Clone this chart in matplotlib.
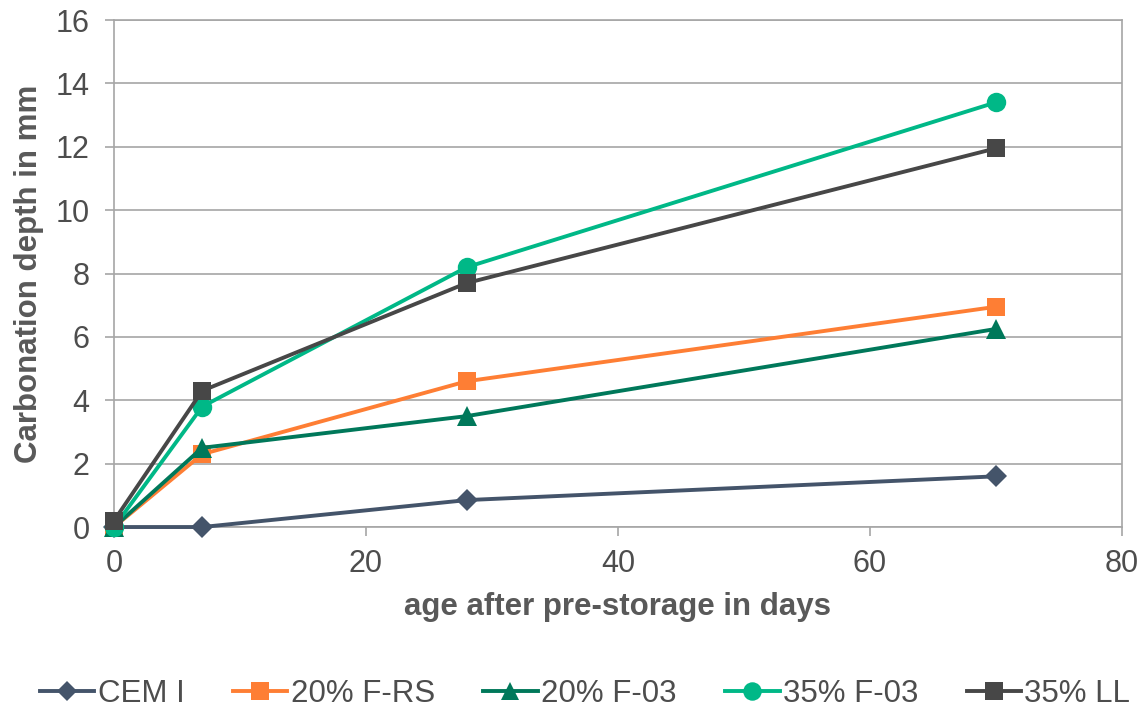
import matplotlib
matplotlib.use("Agg")
import matplotlib.pyplot as plt

plt.rcParams['font.family'] = ['Liberation Sans', 'DejaVu Sans']

days = [0, 7, 28, 70]
cem_i = [0.0, 0.0, 0.85, 1.6]
f_rs_20 = [0.0, 2.3, 4.6, 6.95]
f_03_20 = [0.0, 2.5, 3.5, 6.25]
f_03_35 = [0.0, 3.8, 8.2, 13.4]
ll_35 = [0.2, 4.3, 7.7, 11.95]

labels = ["CEM I", "20% F-RS", "20% F-03", "35% F-03", "35% LL"]
series = [cem_i, f_rs_20, f_03_20, f_03_35, ll_35]
colors = ["#44546A", "#FE7E34", "#00785A", "#00B887", "#474747"]
markers = ["D", "s", "^", "o", "s"]
msizes = [11, 13, 14, 14, 13]

fig = plt.figure(figsize=(11.47, 7.10), dpi=100)
ax = fig.add_axes([0.0994, 0.2577, 0.8786, 0.7141])

for y, lab, c, m, ms in zip(series, labels, colors, markers, msizes):
    ax.plot(days, y, color=c, lw=2.8, marker=m, markersize=ms,
            markeredgewidth=0, label=lab, clip_on=False, zorder=3)

ax.set_xlim(0, 80)
ax.set_ylim(0, 16)
ax.set_xticks([0, 20, 40, 60, 80])
ax.set_yticks(range(0, 17, 2))
ax.grid(axis='y', color='#A6A6A6', lw=1.2)
ax.set_axisbelow(True)
for s in ax.spines.values():
    s.set_color('#A6A6A6')
    s.set_linewidth(1.2)
ax.tick_params(axis='both', colors='#A6A6A6', labelcolor='#4D4D4D',
               labelsize=22, length=6.5, width=1.2)
ax.tick_params(axis='y', pad=11)
ax.tick_params(axis='x', pad=9)
ax.set_xlabel("age after pre-storage in days", fontsize=22.5, fontweight='bold',
              color='#595959', labelpad=10)
ax.set_ylabel("Carbonation depth in mm", fontsize=22.5, fontweight='bold',
              color='#595959', labelpad=8)

leg = fig.legend(loc='center', ncol=5, frameon=False, fontsize=22.5,
                 bbox_to_anchor=(0.51, 0.022), handlelength=1.75,
                 handletextpad=0.1, columnspacing=1.55, labelcolor='#4D4D4D',
                 markerscale=0.95)

fig.savefig("out.png", dpi=100)
